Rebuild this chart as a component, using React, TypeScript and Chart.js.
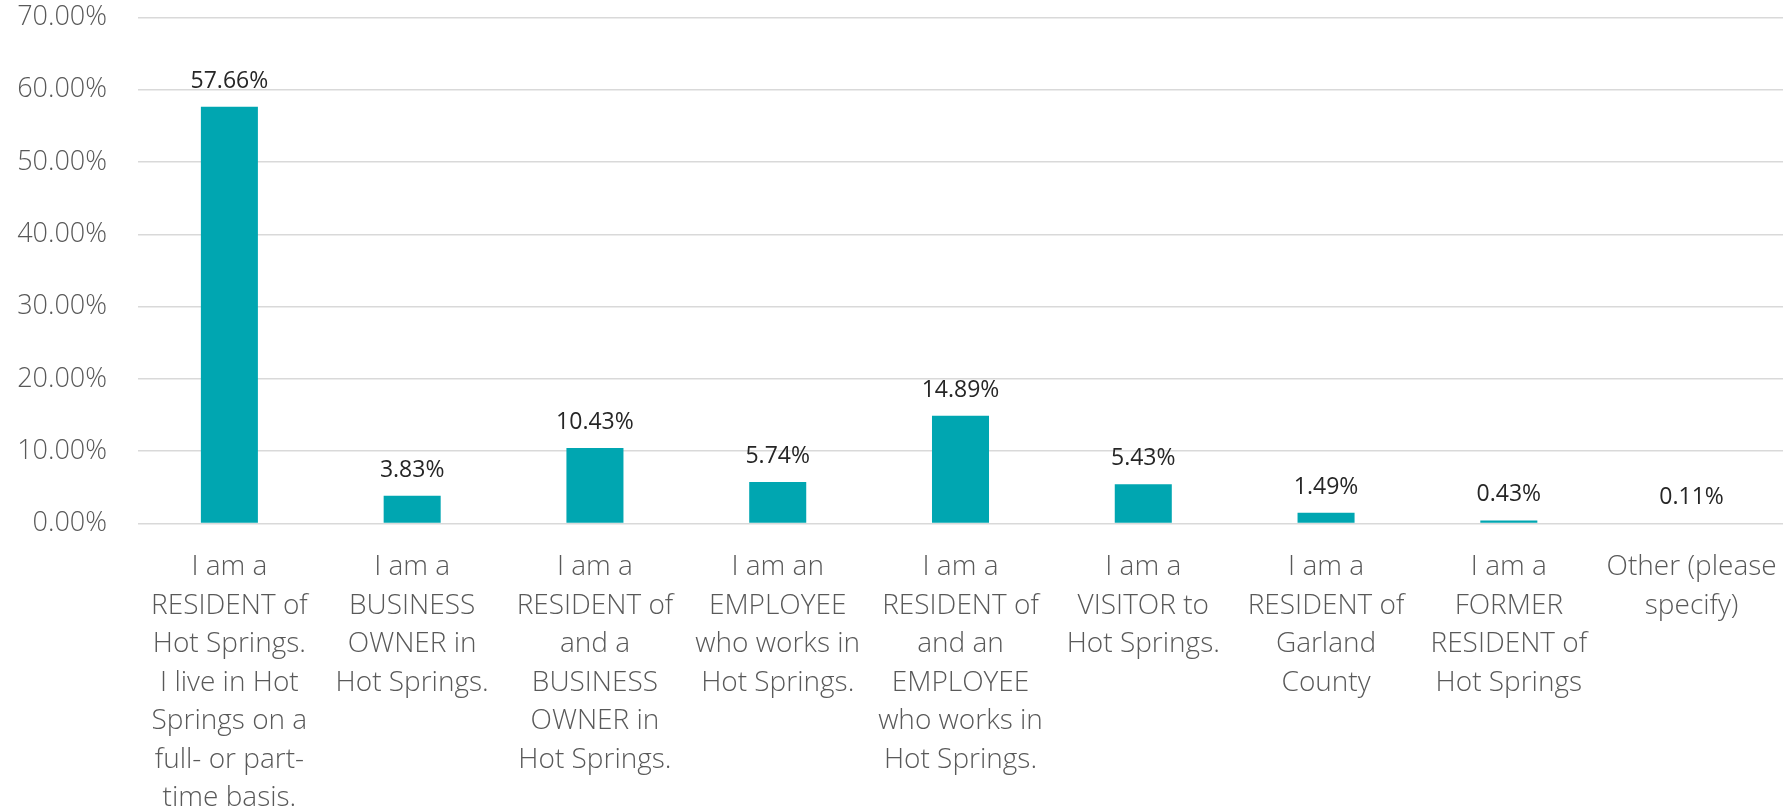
import React, { useEffect, useRef } from "react";
import { Chart, registerables } from "chart.js";

Chart.register(...registerables);

const categories: string[][] = [
  ["I am a", "RESIDENT of", "Hot Springs.", "I live in Hot", "Springs on a", "full- or part-", "time basis."],
  ["I am a", "BUSINESS", "OWNER in", "Hot Springs."],
  ["I am a", "RESIDENT of", "and a", "BUSINESS", "OWNER in", "Hot Springs."],
  ["I am an", "EMPLOYEE", "who works in", "Hot Springs."],
  ["I am a", "RESIDENT of", "and an", "EMPLOYEE", "who works in", "Hot Springs."],
  ["I am a", "VISITOR to", "Hot Springs."],
  ["I am a", "RESIDENT of", "Garland", "County"],
  ["I am a", "FORMER", "RESIDENT of", "Hot Springs"],
  ["Other (please", "specify)"],
];

const values: number[] = [57.66, 3.83, 10.43, 5.74, 14.89, 5.43, 1.49, 0.43, 0.11];

const yTicks: number[] = [0, 10, 20, 30, 40, 50, 60, 70];

const FONT = "'Open Sans', 'DejaVu Sans', sans-serif";

const TARGET = { left: 138, top: 17.5, right: 1783, bottom: 523.5 };

const dataLabelPlugin = {
  id: "dataLabels",
  afterDatasetsDraw(chart: any) {
    const ctx = chart.ctx;
    const meta = chart.getDatasetMeta(0);
    ctx.save();
    ctx.font = `23px ${FONT}`;
    ctx.fillStyle = "#262626";
    ctx.textAlign = "center";
    ctx.textBaseline = "alphabetic";
    meta.data.forEach((bar: any, i: number) => {
      const v = values[i];
      ctx.fillText(v.toFixed(2) + "%", bar.x, bar.y - 19);
    });
    ctx.restore();
  },
};

function zeroPad(scale: any) {
  scale.paddingTop = 0;
  scale.paddingBottom = 0;
  scale.paddingLeft = 0;
  scale.paddingRight = 0;
}

export default function App() {
  const ref = useRef<HTMLCanvasElement | null>(null);

  useEffect(() => {
    if (!ref.current) return;
    const padding = { top: TARGET.top, right: 0, left: 0, bottom: 0 };
    const chart = new Chart(ref.current, {
      type: "bar",
      data: {
        labels: categories,
        datasets: [
          {
            data: values,
            backgroundColor: "#00A6B1",
            borderWidth: 0,
            barPercentage: 0.312,
            categoryPercentage: 1,
          },
        ],
      },
      options: {
        animation: false,
        responsive: false,
        maintainAspectRatio: false,
        layout: { padding },
        plugins: {
          legend: { display: false },
          tooltip: { enabled: false },
        },
        scales: {
          x: {
            grid: { display: false, drawTicks: false },
            border: { display: false },
            ticks: {
              autoSkip: false,
              maxRotation: 0,
              minRotation: 0,
              padding: 24.5,
              color: "#595959",
              font: { family: FONT, size: 28, weight: "300", lineHeight: 1.375 },
            },
            afterFit(scale: any) {
              scale.height = 288.5;
              zeroPad(scale);
            },
          },
          y: {
            min: 0,
            max: 70,
            afterBuildTicks(scale: any) {
              scale.ticks = yTicks.map((v) => ({ value: v }));
            },
            grid: { color: "#d9d9d9", lineWidth: 1.5, drawTicks: false },
            border: { display: false },
            ticks: {
              padding: 31,
              color: "#595959",
              font: { family: FONT, size: 27, weight: "300" },
              callback: (v: any) => Number(v).toFixed(2) + "%",
            },
            afterFit(scale: any) {
              scale.width = 138;
              zeroPad(scale);
            },
          },
        },
      },
      plugins: [dataLabelPlugin],
    });
    for (let i = 0; i < 2; i++) {
      const a = chart.chartArea;
      const p: any = (chart.options.layout as any).padding;
      const dt = TARGET.top - a.top;
      const dr = a.right - TARGET.right;
      if (Math.abs(dt) < 0.5 && Math.abs(dr) < 0.5) break;
      p.top += dt;
      p.right += dr;
      chart.update();
    }
    return () => chart.destroy();
  }, []);

  return (
    <div style={{ position: "absolute", left: 0, top: 0, width: 1783, height: 812, background: "#fff" }}>
      <canvas ref={ref} width={1783} height={812} style={{ display: "block" }} />
    </div>
  );
}
